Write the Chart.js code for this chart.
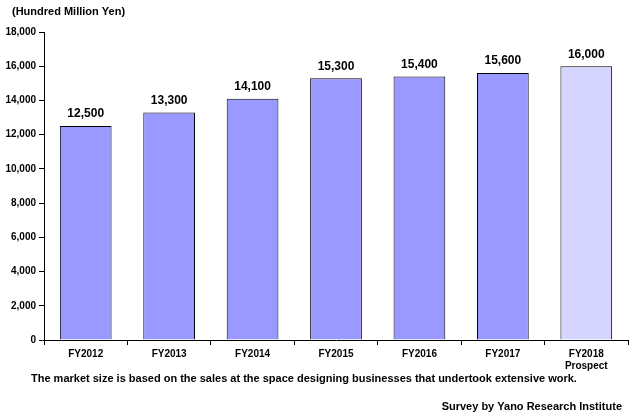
<!DOCTYPE html>
<html>
<head>
<meta charset="utf-8">
<script src="https://cdn.jsdelivr.net/npm/chart.js@4/dist/chart.umd.min.js"></script>
<style>
  html, body { margin: 0; padding: 0; background: #fff; }
  #wrap { width: 635px; height: 418px; position: relative; }
</style>
</head>
<body>
<div id="wrap"><canvas id="grafico" width="635" height="418"></canvas></div>
<script>
const categorias = [["FY2012"], ["FY2013"], ["FY2014"], ["FY2015"], ["FY2016"], ["FY2017"], ["FY2018", "Prospect"]];
const valores = [12500, 13300, 14100, 15300, 15400, 15600, 16000];
const unidade = "(Hundred Million Yen)";
const nota = "The market size is based on the sales at the space designing businesses that undertook extensive work.";
const fonte = "Survey by Yano Research Institute";

const corBarra = valores.map((v, i) => i === valores.length - 1 ? "#d5d5ff" : "#9999ff");
const fam = "'Liberation Sans', Arial, sans-serif";

const textos = {
    id: "textos",
    afterDraw(chart) {
        const ctx = chart.ctx;
        const meta = chart.getDatasetMeta(0);
        ctx.save();
        ctx.fillStyle = "#000";
        ctx.font = "bold 12px " + fam;
        ctx.textAlign = "center";
        ctx.textBaseline = "bottom";
        meta.data.forEach((bar, i) => {
            ctx.fillText(valores[i].toLocaleString("en-US"), bar.x, bar.y - 6);
        });
        ctx.font = "bold 11px " + fam;
        ctx.textAlign = "left";
        ctx.textBaseline = "middle";
        ctx.fillText(unidade, 12, 12);
        ctx.fillText(nota, 31, 379);
        ctx.textAlign = "right";
        ctx.fillText(fonte, 622, 407);
        ctx.restore();
    }
};

new Chart(document.getElementById("grafico"), {
    type: "bar",
    data: {
        labels: categorias,
        datasets: [{
            data: valores,
            backgroundColor: corBarra,
            borderColor: "#000",
            borderWidth: 1,
            barPercentage: 0.62,
            categoryPercentage: 1
        }]
    },
    options: {
        responsive: false,
        animation: false,
        layout: { padding: { top: 32, right: 7, left: 0, bottom: 0 } },
        plugins: { legend: { display: false }, tooltip: { enabled: false } },
        scales: {
            x: {
                afterFit(s) { s.height = 78; },
                border: { color: "#000", width: 1 },
                grid: { display: true, offset: true, drawOnChartArea: false, drawTicks: true, tickLength: 5, color: "#000" },
                ticks: { color: "#000", font: { family: fam, size: 10, weight: "bold" }, padding: 3, maxRotation: 0 }
            },
            y: {
                min: 0,
                max: 18000,
                afterFit(s) { s.width = 44; },
                border: { color: "#000", width: 1 },
                grid: { display: true, drawOnChartArea: false, drawTicks: true, tickLength: 5, color: "#000" },
                ticks: {
                    stepSize: 2000,
                    color: "#000",
                    padding: 3,
                    font: { family: fam, size: 10, weight: "bold" },
                    callback: v => v.toLocaleString("en-US")
                }
            }
        }
    },
    plugins: [textos]
});
</script>
</body>
</html>
